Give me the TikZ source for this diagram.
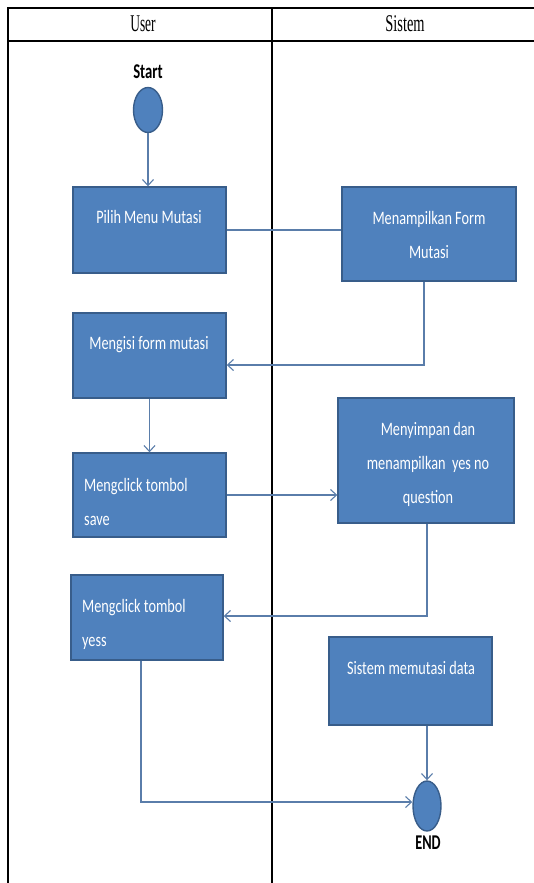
\documentclass[tikz,border=0pt]{standalone}
\usepackage{fontspec}
\usepackage{graphicx}
\setmainfont{Liberation Serif}
\newfontfamily\boxfont{Carlito}
\usetikzlibrary{arrows.meta,shapes.geometric}
\definecolor{fillblue}{HTML}{4F81BD}
\definecolor{edgeblue}{HTML}{385D8A}
\definecolor{wireblue}{HTML}{5A7DAA}

% narrow lettering: centred and left-aligned line stacks
\newcommand{\narrowc}[2]{\scalebox{#1}[1]{\begin{tabular}{@{}c@{}}#2\end{tabular}}}
\newcommand{\narrowl}[2]{\scalebox{#1}[1]{\begin{tabular}{@{}l@{}}#2\end{tabular}}}

\begin{document}
\begin{tikzpicture}[x=1pt,y=-1pt,
  act/.style={draw=edgeblue, fill=fillblue, line width=1.4pt, inner sep=0pt},
  terminal/.style={ellipse, draw=edgeblue, fill=fillblue, line width=1.4pt, inner sep=0pt},
  btext/.style={font=\boxfont\fontsize{19}{34}\selectfont, text=white, inner sep=0pt},
  ltext/.style={btext, anchor=west},
  ttext/.style={font=\boxfont\bfseries\fontsize{21}{24}\selectfont, text=black, inner sep=0pt},
  htext/.style={font=\fontsize{24}{26}\selectfont, inner sep=0pt},
  frame/.style={draw=black, line width=1.3pt},
  wire/.style={draw=wireblue, line width=1.1pt},
  flow/.style={wire, -{Straight Barb[length=6pt,width=11pt,line width=1.1pt]}}]

  \useasboundingbox (0,0) rectangle (534,883);

  % swimlane frame
  \draw[frame] (534,8) -- (8,8) -- (8,883);
  \draw[frame] (8,41) -- (534,41);
  \draw[frame] (272,8) -- (272,883);
  \node[htext] (hu) at (143,24) {\scalebox{0.56}[1]{User}};
  \node[htext] (hs) at (405,24) {\scalebox{0.6}[1]{Sistem}};

  % start and end
  \node[ttext] (lst) at (148,72) {\scalebox{0.7}[1]{Start}};
  \node[terminal, minimum width=29pt, minimum height=45pt] (st) at (148,110) {};
  \node[terminal, minimum width=28pt, minimum height=50pt] (en) at (427,806) {};
  \node[ttext] (len) at (428,843) {\scalebox{0.68}[1]{END}};

  % activities
  \node[act, minimum width=153pt, minimum height=86pt] (b1) at (149.5,230) {};
  \node[act, minimum width=174pt, minimum height=94pt] (b2) at (429,234) {};
  \node[act, minimum width=153pt, minimum height=85pt] (b3) at (149.5,355.5) {};
  \node[act, minimum width=153pt, minimum height=84pt] (b4) at (149.5,495) {};
  \node[act, minimum width=176pt, minimum height=125pt] (b5) at (426,460.5) {};
  \node[act, minimum width=152pt, minimum height=85pt] (b6) at (147,617.5) {};
  \node[act, minimum width=163pt, minimum height=88pt] (b7) at (410.5,681) {};

  % activity texts
  \node[btext] (t1) at (149,217) {\narrowc{0.75}{Pilih Menu Mutasi}};
  \node[btext] (t2) at (429,235) {\narrowc{0.75}{Menampilkan Form\\Mutasi}};
  \node[btext] (t3) at (149,343) {\narrowc{0.75}{Mengisi form mutasi}};
  \node[ltext] (t4) at (84,501.5) {\narrowl{0.75}{Mengclick tombol\\save}};
  \node[btext] (t5) at (428,462.5) {\narrowc{0.75}{Menyimpan dan\\menampilkan\ \ yes no\\question}};
  \node[ltext] (t6) at (82,622.5) {\narrowl{0.75}{Mengclick tombol\\yess}};
  \node[btext] (t7) at (411,668) {\narrowc{0.75}{Sistem memutasi data}};

  % bends
  \coordinate (c1) at (424,365);
  \coordinate (c2) at (427,616);
  \coordinate (c3) at (141,802);

  % connectors
  \draw[flow] (st) -- (st |- b1.north);
  \draw[wire] (b1.east) -- (b1.east -| b2.west);
  \draw[flow] (b2.south -| c1) -- (c1) -- (c1 -| b3.east);
  \draw[flow] (b3.south) -- (b4.north);
  \draw[flow] (b4.east) -- (b4.east -| b5.west);
  \draw[flow] (b5.south -| c2) -- (c2) -- (c2 -| b6.east);
  \draw[flow] (b6.south -| c3) -- (c3) -- (c3 -| en.west);
  \draw[flow] (b7.south -| en) -- (en.north);
\end{tikzpicture}
\end{document}
